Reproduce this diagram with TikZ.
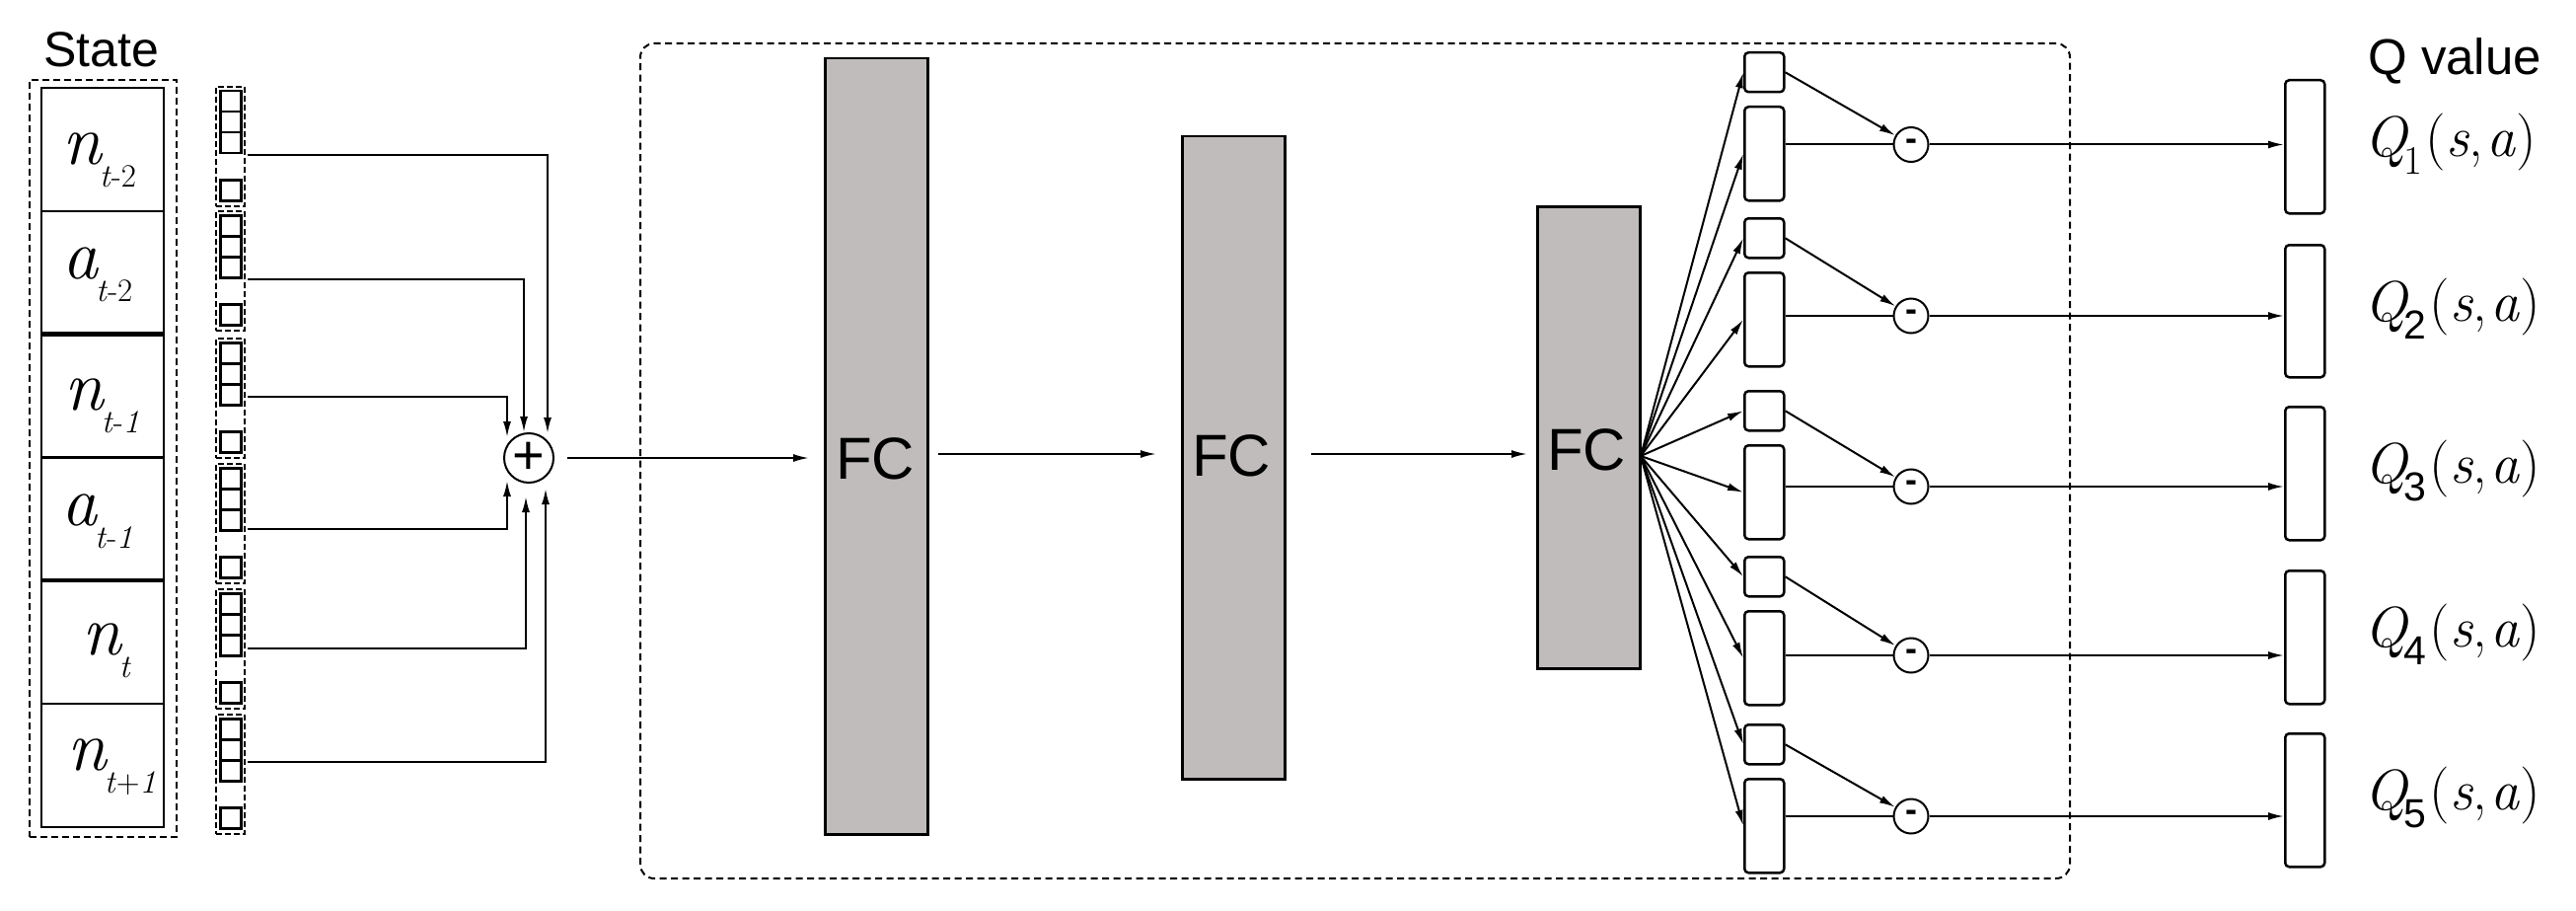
\documentclass[tikz,border=0pt]{standalone}
\usepackage{fontspec}
\setsansfont{Liberation Sans}
\usetikzlibrary{arrows.meta,calc}
\definecolor{fcgray}{RGB}{192,188,188}
\newcommand{\celllab}[2]{{\fontsize{72}{72}\selectfont\itshape #1}\kern-2pt\raisebox{-23pt}{\fontsize{33}{33}\selectfont#2}}
\newcommand{\qlab}[2]{{\fontsize{58}{58}\selectfont\itshape Q}\kern-3pt\raisebox{-18pt}{#1\fontsize{41}{41}\selectfont #2}\kern3pt{\fontsize{58}{58}\selectfont(\textit{s},\kern4pt\textit{a})}}
\tikzset{
  arr/.style={-{Latex[length=16pt,width=8pt]}, line width=2pt},
  plain/.style={line width=2pt},
  cellbox/.style={draw, line width=2.5pt, minimum width=124pt, minimum height=124.8pt, inner sep=0pt, outer sep=0pt, anchor=north west},
  grpbox/.style={draw, line width=2pt, dash pattern=on 6pt off 3pt, minimum width=29pt, minimum height=121pt, inner sep=0pt, anchor=north west},
  sqbox/.style={draw, line width=2.5pt, minimum width=21pt, minimum height=21pt, inner sep=0pt, anchor=north west},
  fcbox/.style={draw, fill=fcgray, line width=2.5pt, minimum width=104pt, inner sep=0pt, anchor=north west},
  fclab/.style={font=\sffamily\fontsize{60}{60}\selectfont, inner sep=0pt},
  vbox/.style={draw, rounded corners=4pt, line width=2.5pt, minimum width=40pt, inner sep=0pt, anchor=north west},
  opc/.style={draw, circle, line width=2pt, inner sep=0pt},
  lab/.style={inner sep=0pt, anchor=base west},
}
\begin{document}
\begin{tikzpicture}[x=1pt,y=-1pt]
\useasboundingbox (0,0) rectangle (2611,923);
% big dashed network box
\node[draw, line width=2pt, dash pattern=on 7pt off 4.5pt, rounded corners=14pt, minimum width=1449pt, minimum height=846pt, inner sep=0pt, anchor=north west] (net) at (648,43) {};
% State column
\node[inner sep=0pt, anchor=base, font=\sffamily\fontsize{50}{50}\selectfont] (statet) at (103,68) {State};
\node[draw, line width=2pt, dash pattern=on 7pt off 4pt, minimum width=149pt, minimum height=767pt, inner sep=0pt, anchor=north west] (statebox) at (29,80) {};
\foreach \i/\y in {1/89,2/213.8,3/338.6,4/463.4,5/588.2,6/713}{
  \node[cellbox] (c\i) at (42,\y) {};
}
\draw[line width=4.5pt] (c3.north west) -- (c3.north east);
\draw[line width=4.5pt] (c5.north west) -- (c5.north east);
\node[lab] (l1) at (63,167) {\celllab{n}{\textit{t}-2}};
\node[lab] (l2) at (63,282) {\celllab{a}{\textit{t}-2}};
\node[lab] (l3) at (65,415) {\celllab{n}{\textit{t}-\textit{1}}};
\node[lab] (l4) at (62,532) {\celllab{a}{\textit{t}-\textit{1}}};
\node[lab] (l5) at (83,663) {\celllab{n}{\textit{t}}};
\node[lab] (l6) at (68,780) {\celllab{n}{\textit{t}+\textit{1}}};
% one-hot groups
\foreach \i/\t in {1/87,2/213,3/342,4/469,5/596,6/723}{
  \node[grpbox] (g\i) at (218,\t) {};
  \node[sqbox] (s\i a) at (222,\t+4) {};
  \node[sqbox] (s\i b) at (222,\t+25) {};
  \node[sqbox] (s\i c) at (222,\t+46) {};
  \node[sqbox] (s\i d) at (222,\t+94) {};
}
% plus node
\node[opc, minimum size=50pt, font=\sffamily\fontsize{56}{56}\selectfont] (plus) at (536,464) {+};
\coordinate (a1) at (251,157); \coordinate (b1) at (555,439);
\coordinate (a2) at (251,283); \coordinate (b2) at (531,438);
\coordinate (a3) at (251,402); \coordinate (b3) at (514,443);
\coordinate (a4) at (251,536); \coordinate (b4) at (514,487);
\coordinate (a5) at (251,657); \coordinate (b5) at (533,503);
\coordinate (a6) at (251,772); \coordinate (b6) at (553,495);
\foreach \i in {1,...,6}{\draw[arr] (a\i) -| (b\i);}
% FC blocks
\node[fcbox, minimum height=786pt] (fc1) at (835,58) {};
\node[fcbox, minimum height=651pt] (fc2) at (1197,137) {};
\node[fcbox, minimum height=468pt] (fc3) at (1557,208) {};
\node[fclab] (fc1t) at (887,465) {FC};
\node[fclab] (fc2t) at (1248,462) {FC};
\node[fclab] (fc3t) at (1608,456) {FC};
\draw[arr, shorten <=13pt, shorten >=15pt] (plus.east) -- (fc1.west |- plus.east);
\draw[arr, shorten <=9pt, shorten >=25pt] (fc1.east |- 0,460) -- (fc2.west |- 0,460);
\draw[arr, shorten <=25pt, shorten >=9pt] (fc2.east |- 0,460) -- (fc3.west |- 0,460);
\coordinate (fo) at (1663,462);
% dueling branches
\foreach \i/\st/\my/\qt/\qh/\df in {1/52/146.5/80/135/\rmfamily, 2/220/320/247/134/\sffamily, 3/395/493/411/135/\sffamily, 4/563/664/577/135/\sffamily, 5/733/827/742/135/\sffamily}{
  \node[vbox, minimum height=40pt] (sb\i) at (1767,\st) {};
  \node[vbox, minimum height=95pt] (tb\i) at (1767,\st+55) {};
  \node[opc, minimum size=35pt, font=\sffamily\bfseries\fontsize{36}{36}\selectfont] (m\i) at (1937,\my) {-};
  \node[vbox, minimum height=\qh pt, minimum width=40pt] (qb\i) at (2315,\qt) {};
  \draw[arr] (fo) -- (sb\i.west);
  \draw[arr] (fo) -- (tb\i.west);
  \draw[arr] (sb\i.east) -- (m\i);
  \draw[plain] (tb\i.east |- m\i) -- (m\i);
  \draw[arr] (m\i) -- (qb\i.west |- m\i);
  \node[lab] (ql\i) at (2396,\qt+\qh/2+11) {\qlab{\df}{\i}};
}
\node[lab, font=\sffamily\fontsize{51}{51}\selectfont] (qv) at (2400,76) {Q value};
\end{tikzpicture}
\end{document}
